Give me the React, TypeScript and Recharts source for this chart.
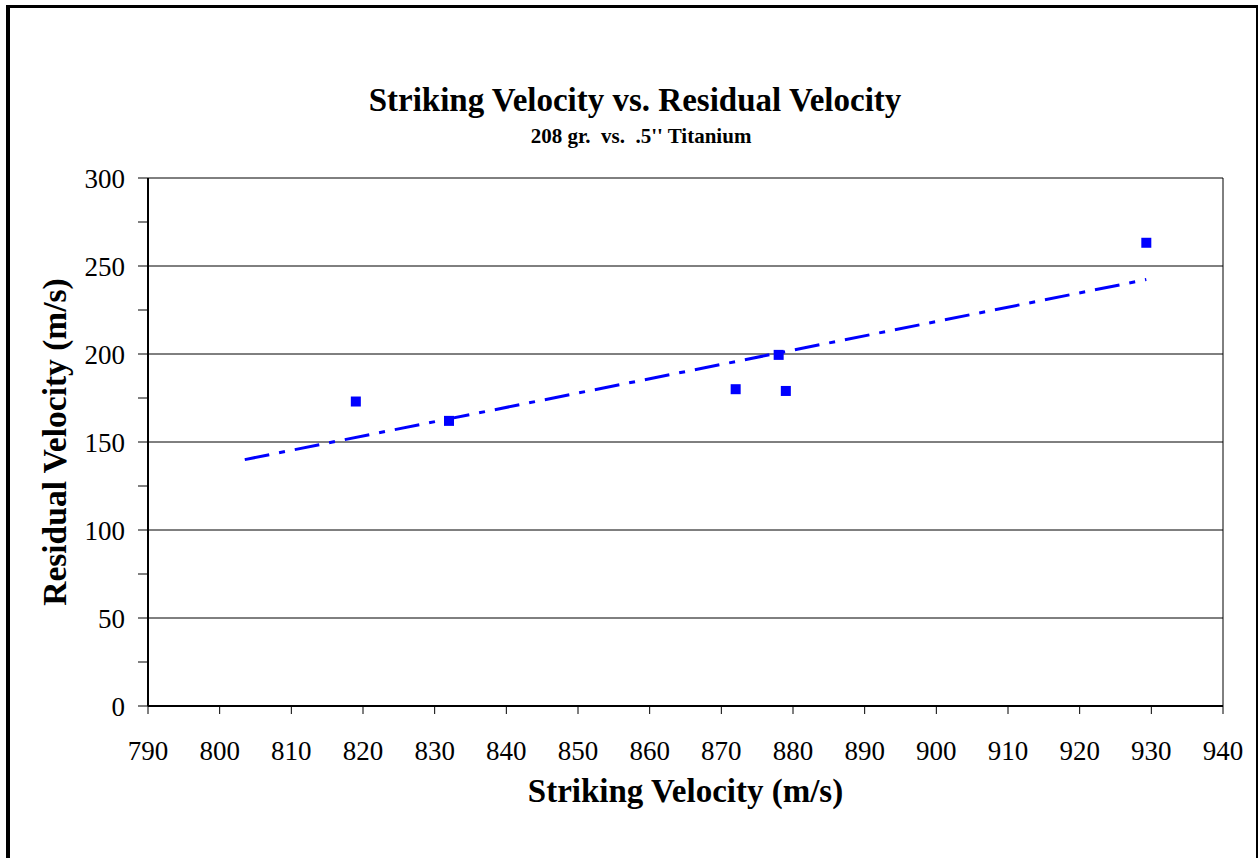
import { ScatterChart, Scatter, XAxis, YAxis, ReferenceLine, Label } from 'recharts'

const strikingVelocity = [819, 832, 872, 878, 879, 929.3]
const residualVelocity = [173, 162, 180, 199.5, 179, 263.2]
const trendStriking = [803.5, 929.3]
const trendResidual = [140, 242.3]
const xTicks = [790, 800, 810, 820, 830, 840, 850, 860, 870, 880, 890, 900, 910, 920, 930, 940]
const yTicks = [0, 25, 50, 75, 100, 125, 150, 175, 200, 225, 250, 275, 300]
const yGridValues = [50, 100, 150, 200, 250, 300]

const FONT = '"Liberation Serif", "Times New Roman", serif'
const BLUE = '#0000FF'

const points = strikingVelocity.map((x, i) => ({ x, y: residualVelocity[i] }))
const trend = trendStriking.map((x, i) => ({ x, y: trendResidual[i] }))

function YTick({ x, y, payload }: any) {
  if (payload.value % 50 !== 0) return <g />
  return (
    <text x={x} y={y} dy="0.355em" textAnchor="end" fontSize={27} fontFamily={FONT} fill="#000">
      {payload.value}
    </text>
  )
}

function SquareDot({ cx, cy }: any) {
  return <rect x={cx - 5} y={cy - 5} width={10} height={10} fill={BLUE} />
}

export default function App() {
  return (
    <div style={{ position: 'absolute', left: 0, top: 0, width: 1259, height: 858, background: '#fff' }}>
      <ScatterChart width={1259} height={858} margin={{ top: 178, right: 36, bottom: 0, left: 0 }}>
        <XAxis
          type="number"
          dataKey="x"
          domain={[790, 940]}
          ticks={xTicks}
          interval={0}
          height={152}
          tickSize={8}
          tickMargin={27}
          axisLine={{ stroke: '#000', strokeWidth: 2 }}
          tickLine={{ stroke: '#000' }}
          tick={{ fill: '#000', fontSize: 27, fontFamily: FONT }}
        >
          <Label
            content={() => (
              <text x={685.5} y={802} textAnchor="middle" fontSize={33} fontWeight="bold" fontFamily={FONT} fill="#000">
                Striking Velocity (m/s)
              </text>
            )}
          />
        </XAxis>
        <YAxis
          type="number"
          dataKey="y"
          domain={[0, 300]}
          ticks={yTicks}
          interval={0}
          width={148}
          tickSize={10}
          tickMargin={13}
          axisLine={{ stroke: '#000', strokeWidth: 2 }}
          tickLine={{ stroke: '#000' }}
          tick={<YTick />}
        >
          <Label
            content={() => (
              <text
                x={66}
                y={442}
                transform="rotate(-90 66 442)"
                textAnchor="middle"
                fontSize={33.5}
                fontWeight="bold"
                fontFamily={FONT}
                fill="#000"
              >
                Residual Velocity (m/s)
              </text>
            )}
          />
        </YAxis>
        {yGridValues.map((v) => (
          <ReferenceLine key={v} y={v} stroke="#000" strokeWidth={1} />
        ))}
        <ReferenceLine x={940} stroke="#000" strokeWidth={1} />
        <Scatter
          data={trend}
          line={{ stroke: BLUE, strokeWidth: 3, strokeDasharray: '25 10 6 10' }}
          shape={() => <g />}
          isAnimationActive={false}
        />
        <Scatter data={points} fill={BLUE} shape={<SquareDot />} isAnimationActive={false} />
      </ScatterChart>
      <svg
        width={1259}
        height={858}
        style={{ position: 'absolute', left: 0, top: 0, pointerEvents: 'none' }}
      >
        <rect x={6} y={5} width={4} height={853} fill="#000" />
        <rect x={6} y={5} width={1252} height={3} fill="#000" />
        <rect x={1256} y={5} width={2} height={853} fill="#000" />
        <text x={635} y={111} textAnchor="middle" fontSize={33} fontWeight="bold" fontFamily={FONT} fill="#000">
          Striking Velocity vs. Residual Velocity
        </text>
        <text
          x={641}
          y={143}
          textAnchor="middle"
          fontSize={21}
          fontWeight="bold"
          fontFamily={FONT}
          fill="#000"
          style={{ whiteSpace: 'pre' }}
        >
          {"208 gr.  vs.  .5'' Titanium"}
        </text>
      </svg>
    </div>
  )
}
